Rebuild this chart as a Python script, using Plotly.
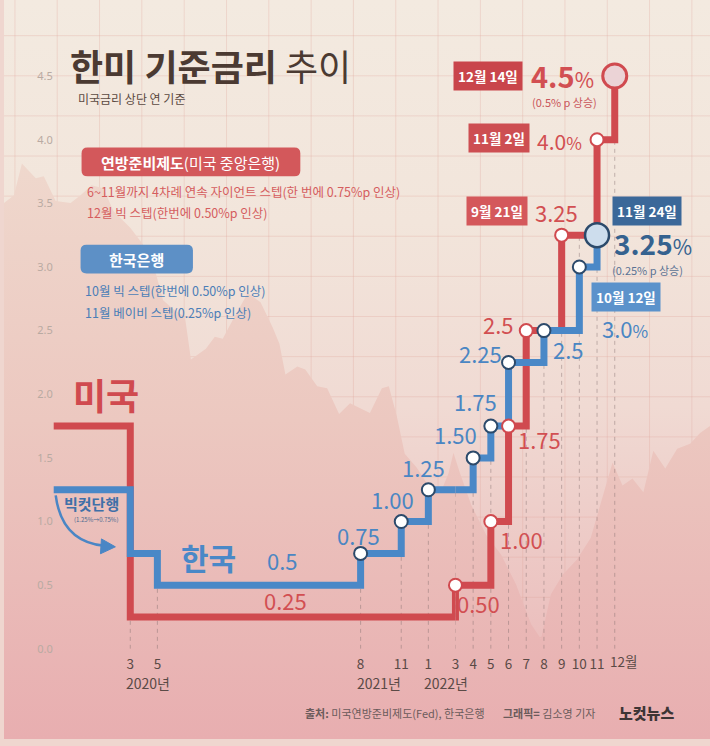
import base64
import plotly.graph_objects as go

W, H = 710, 746
FONT = "Noto Sans CJK KR, Noto Sans, sans-serif"

# ---------------- data ----------------
us_months = ["2019-08", "2020-03", "2022-03", "2022-05", "2022-06", "2022-07", "2022-09", "2022-11", "2022-12"]
us_rates = [1.75, 0.25, 0.50, 1.00, 1.75, 2.50, 3.25, 4.00, 4.50]
us_labels = [None, "0.25", "0.50", "1.00", "1.75", "2.5", "3.25", "4.0", "4.5"]
us_dates = {6: "9월 21일", 7: "11월 2일", 8: "12월 14일"}

kr_months = ["2019-08", "2020-03", "2020-05", "2021-08", "2021-11", "2022-01", "2022-04",
             "2022-05", "2022-06", "2022-08", "2022-10", "2022-11"]
kr_rates = [1.25, 0.75, 0.50, 0.75, 1.00, 1.25, 1.50, 1.75, 2.25, 2.50, 3.00, 3.25]
kr_labels = [None, None, "0.5", "0.75", "1.00", "1.25", "1.50", "1.75", "2.25", "2.5", "3.0", "3.25"]
kr_dates = {10: "10월 12일", 11: "11월 24일"}

tick_months = ["2020-03", "2020-05", "2021-08", "2021-11", "2022-01", "2022-03", "2022-04", "2022-05",
               "2022-06", "2022-07", "2022-08", "2022-09", "2022-10", "2022-11", "2022-12"]
tick_text = ["3", "5", "8", "11", "1", "3", "4", "5", "6", "7", "8", "9", "10", "11", "12월"]
year_months = ["2020-03", "2021-08", "2022-01"]
year_text = ["2020년", "2021년", "2022년"]
y_ticks = [0.0, 0.5, 1.0, 1.5, 2.0, 2.5, 3.0, 3.5, 4.0, 4.5]

# ---------------- styling ----------------
RED = "#d04a4f"
BLUE = "#4a88c7"
NAVY = "#2c4a6b"
RED_TXT = "#d24f52"
BLUE_TXT = "#4a86c3"
TICK_COLOR = "#5a4a46"


def midx(s):
    y, mo = s.split("-")[:2]
    return (int(y) - 2020) * 12 + int(mo) - 1


BREAK = midx("2022-03")


def xa(m):
    return "x" if m < BREAK else "x2"


def px(x):
    return x / W


def py(y):
    return 1 - y / H


def rate_at(months, rates, m):
    v = rates[0]
    for mo, r in zip(months, rates):
        if midx(mo) <= m:
            v = r
    return v


us_x = [midx(m) for m in us_months]
kr_x = [midx(m) for m in kr_months]

# ---------------- background (decorative) ----------------
grid = []
gx = 11.0
while gx < W:
    grid.append(f"<line x1='{gx:.1f}' y1='0' x2='{gx:.1f}' y2='{H}'/>")
    gx += 42.55
gy = 36.0
while gy < H:
    grid.append(f"<line x1='0' y1='{gy:.1f}' x2='{W}' y2='{gy:.1f}'/>")
    gy += 40.5
mountain = [(0, 205), (10, 197), (18, 165), (32, 180), (40, 178), (52, 203), (67, 205), (77, 197),
            (88, 187), (100, 190), (110, 213), (127, 230), (140, 247), (153, 277), (160, 303),
            (170, 312), (182, 320), (188, 363), (203, 352), (212, 340), (220, 342), (230, 323),
            (245, 296), (258, 305), (270, 330), (277, 347), (283, 378), (295, 370), (303, 373),
            (315, 390), (325, 392), (337, 418), (348, 407), (368, 417), (380, 392), (387, 390),
            (395, 420), (403, 458), (415, 472), (428, 492), (440, 495), (447, 478), (452, 457),
            (458, 476), (470, 510), (485, 540), (500, 560), (515, 590), (530, 630), (540, 645),
            (550, 600), (562, 580), (576, 565), (590, 543), (612, 467), (622, 490), (632, 483),
            (643, 497), (653, 455), (665, 473), (677, 453), (690, 448), (700, 437), (710, 430),
            (710, 746), (0, 746)]
mpath = "M" + " L".join(f"{a},{b}" for a, b in mountain) + " Z"
svg = f"""<svg xmlns='http://www.w3.org/2000/svg' width='{W}' height='{H}' viewBox='0 0 {W} {H}'>
<defs>
<linearGradient id='bg' x1='0' y1='0' x2='0' y2='{H}' gradientUnits='userSpaceOnUse'>
<stop offset='0' stop-color='#f3eae0'/><stop offset='0.3' stop-color='#f2e5db'/>
<stop offset='0.55' stop-color='#f0dad3'/><stop offset='1' stop-color='#e9b3b4'/></linearGradient>
<linearGradient id='mt' x1='0' y1='160' x2='0' y2='{H}' gradientUnits='userSpaceOnUse'>
<stop offset='0' stop-color='#efd8cd'/><stop offset='0.45' stop-color='#ecc8c0'/>
<stop offset='1' stop-color='#e8aeb0'/></linearGradient>
</defs>
<rect x='0' y='0' width='{W}' height='{H}' fill='url(#bg)'/>
<g stroke='rgba(226,165,155,0.3)' stroke-width='1'>{''.join(grid)}</g>
<path d='{mpath}' fill='url(#mt)'/>
</svg>"""
svg_uri = "data:image/svg+xml;base64," + base64.b64encode(svg.encode("utf-8")).decode()

fig = go.Figure()

# step lines, drawn on both halves of the broken time axis
for color, xs, ys in ((RED, us_x, us_rates), (BLUE, kr_x, kr_rates)):
    for ax in ("x", "x2"):
        fig.add_trace(go.Scatter(x=xs, y=ys, mode="lines", xaxis=ax, yaxis="y",
                                 line=dict(color=color, width=7, shape="hv"),
                                 hoverinfo="skip", showlegend=False))


def add_markers(xs, ys, idxs, fill, edge, size, width):
    for ax in ("x", "x2"):
        sel = [i for i in idxs if xa(xs[i]) == ax]
        if not sel:
            continue
        fig.add_trace(go.Scatter(x=[xs[i] for i in sel], y=[ys[i] for i in sel], mode="markers",
                                 xaxis=ax, yaxis="y", cliponaxis=False, hoverinfo="skip",
                                 showlegend=False,
                                 marker=dict(size=size, color=fill, line=dict(color=edge, width=width))))


n_us, n_kr = len(us_x), len(kr_x)
add_markers(us_x, us_rates, list(range(2, n_us - 1)), "white", RED, 13, 2)
add_markers(kr_x, kr_rates, list(range(3, n_kr - 1)), "white", NAVY, 13, 2)
add_markers(us_x, us_rates, [n_us - 1], "#ebd3d6", RED, 24, 3)
add_markers(kr_x, kr_rates, [n_kr - 1], "#cddded", NAVY, 24, 2.5)

ann = []


def lab(text, m, v, dx, dy, color, size, xanchor="center", bg=None, pad=0):
    ann.append(dict(text=text, x=m, y=v, xref=xa(m), yref="y", xshift=dx, yshift=dy,
                    xanchor=xanchor, yanchor="middle", showarrow=False, bgcolor=bg, borderpad=pad,
                    font=dict(family=FONT, size=size, color=color)))


# value labels on the lines
US_OFF = {1: (-7, 17), 2: (23, -18), 3: (31, -17), 4: (31, -13), 5: (-28, 7), 6: (-5, 23)}
KR_OFF = {2: (24, 25), 3: (-2, 18), 4: (-9, 23), 5: (-5, 23), 6: (-18, 24), 7: (-15, 25),
          8: (-28, 9), 9: (25, -18)}
for i, (dx, dy) in US_OFF.items():
    m = us_x[i] if i != 1 else (us_x[1] + us_x[2]) / 2
    lab(us_labels[i], m, us_rates[i], dx, dy, RED_TXT, 22)
for i, (dx, dy) in KR_OFF.items():
    m = kr_x[i] if i != 2 else (kr_x[2] + kr_x[3]) / 2
    lab(kr_labels[i], m, kr_rates[i], dx, dy, BLUE_TXT, 22)

# series names
lab("<b>한국</b>", (kr_x[2] + kr_x[3]) / 2, kr_rates[2], -50, 28, BLUE, 30)
ann.append(dict(text="<b>미국</b>", x=px(103), y=py(398), xref="paper", yref="paper", showarrow=False,
                xanchor="center", yanchor="middle", font=dict(family=FONT, size=36, color=RED)))

# headline values
i = n_us - 1
lab(f"<b>{us_labels[i]}</b><span style='font-size:21px'>%</span>", us_x[i], us_rates[i], -52, 1, RED_TXT, 29)
lab("(0.5% p 상승)", us_x[i], us_rates[i], -50, -26, "#c9555a", 11)
i = n_us - 2
lab(f"{us_labels[i]}<span style='font-size:17px'>%</span>", us_x[i], us_rates[i], -38, -1, RED_TXT, 21)
i = n_kr - 1
lab(f"<b>{kr_labels[i]}</b><span style='font-size:21px'>%</span>", kr_x[i], kr_rates[i], 56, -8, "#35628f", 28)
lab("(0.25% p 상승)", kr_x[i], kr_rates[i], 50, -35, "#5b7394", 11)
i = n_kr - 2
lab(f"{kr_labels[i]}<span style='font-size:17px'>%</span>", kr_x[i], kr_rates[i], 46, -61, BLUE_TXT, 22)

# date boxes
US_BOX = {6: (-65, 24, "#d4585b"), 7: (-98, 2, "#cd4e52"), 8: (-127, 0, "#c9454b")}
KR_BOX = {10: (47, -30, "#5b92cb"), 11: (50, 24, "#3b6899")}
for i, (dx, dy, c) in US_BOX.items():
    lab(f"<b>{us_dates[i]}</b>", us_x[i], us_rates[i], dx, dy, "white", 13.5, bg=c, pad=4)
for i, (dx, dy, c) in KR_BOX.items():
    lab(f"<b>{kr_dates[i]}</b>", kr_x[i], kr_rates[i], dx, dy, "white", 13.5, bg=c, pad=4)

# year labels under month ticks
for m, t in zip(year_months, year_text):
    mm = midx(m)
    ann.append(dict(text=t, x=mm, y=py(689), xref=xa(mm), yref="paper", xanchor="left", yanchor="middle",
                    xshift=-6, showarrow=False, font=dict(family=FONT, size=14, color=TICK_COLOR)))


def ptext(text, x, y, size, color, xanchor="left", weight=None):
    f = dict(family=FONT, size=size, color=color)
    if weight:
        f["weight"] = weight
    ann.append(dict(text=text, x=px(x), y=py(y), xref="paper", yref="paper", xanchor=xanchor,
                    yanchor="middle", showarrow=False, font=f))


# title block
ptext("<b>한미 기준금리</b> 추이", 64, 66, 36, "#4b3a32")
ptext("미국금리 상단 연 기준", 72, 99, 12, "#5b4a42")

# legend blocks
ptext("<b>연방준비제도</b>(미국 중앙은행)", 188, 164, 15, "white", "center")
ptext("6~11월까지 4차례 연속 자이언트 스텝(한 번에 0.75%p 인상)", 81, 193, 12.5, "#d55d5e")
ptext("12월 빅 스텝(한번에 0.50%p 인상)", 81, 215, 12.5, "#d55d5e")
ptext("<b>한국은행</b>", 133, 262, 15, "white", "center")
ptext("10월 빅 스텝(한번에 0.50%p 인상)", 79, 293, 12.5, "#4b7eb7")
ptext("11월 베이비 스텝(0.25%p 인상)", 79, 315, 12.5, "#4b7eb7")

# big-cut note
ptext("<b>빅컷단행</b>", 88, 508, 15, "#3f70a8", "center")
ptext("(1.25%→0.75%)", 93, 524, 6, "#4a6a90", "center")

# credits
ptext("<b>출처:</b> 미국연방준비제도(Fed), 한국은행", 301, 720, 11, "#6b5b5b")
ptext("<b>그래픽=</b> 김소영 기자", 500, 720, 11, "#6b5b5b")
ptext("노컷뉴스", 646, 719, 15, "#3d3535", "center", 900)


def P(x, y):
    return f"{px(x):.5f},{py(y):.5f}"


def rrect(x0, y0, x1, y1, r):
    return (f"M{P(x0 + r, y0)} L{P(x1 - r, y0)} Q{P(x1, y0)} {P(x1, y0 + r)} L{P(x1, y1 - r)} "
            f"Q{P(x1, y1)} {P(x1 - r, y1)} L{P(x0 + r, y1)} Q{P(x0, y1)} {P(x0, y1 - r)} "
            f"L{P(x0, y0 + r)} Q{P(x0, y0)} {P(x0 + r, y0)} Z")


shapes = [
    dict(type="path", xref="paper", yref="paper", path=rrect(78, 149, 298, 178, 6),
         fillcolor="#d3585b", line=dict(width=0), layer="below"),
    dict(type="path", xref="paper", yref="paper", path=rrect(77, 247, 190, 276, 6),
         fillcolor="#5d90c6", line=dict(width=0), layer="below"),
    dict(type="path", xref="paper", yref="paper", path=f"M{P(52, 500)} Q{P(58, 547)} {P(101, 551)}",
         line=dict(color="#4a86c5", width=2.5)),
    dict(type="path", xref="paper", yref="paper",
         path=f"M{P(98, 544)} L{P(112, 552)} L{P(97, 559)} Z", fillcolor="#4a86c5",
         line=dict(color="#4a86c5", width=1)),
]

# dashed guides from the axis up to each tick month's step
for m in tick_months:
    mm = midx(m)
    top = max(rate_at(us_months, us_rates, mm), rate_at(kr_months, kr_rates, mm))
    shapes.append(dict(type="line", xref=xa(mm), yref="y", x0=mm, x1=mm, y0=0, y1=top,
                       line=dict(color="rgba(130,110,110,0.45)", width=1, dash="4px,4px"), layer="below"))

left_ticks = [midx(m) for m in tick_months if midx(m) < BREAK]
right_ticks = [midx(m) for m in tick_months if midx(m) >= BREAK]
left_text = [t for m, t in zip(tick_months, tick_text) if midx(m) < BREAK]
right_text = [t for m, t in zip(tick_months, tick_text) if midx(m) >= BREAK]
# the final "12월" label hangs to the right of its tick (as in the source): draw it as a left-anchored label
last_label = right_text[-1]
right_text[-1] = ""
ann.append(dict(text=last_label, x=right_ticks[-1], y=py(667), xref="x2", yref="paper", xanchor="left",
                yanchor="middle", xshift=-7, showarrow=False,
                font=dict(family=FONT, size=13.5, color=TICK_COLOR)))

tickfont = dict(family=FONT, size=13.5, color=TICK_COLOR)
axis_common = dict(tickfont=tickfont, ticks="outside", ticklen=3, tickcolor="rgba(0,0,0,0)",
                   tickangle=0, showgrid=False, zeroline=False, showline=False)
fig.update_layout(
    width=W, height=H, margin=dict(l=0, r=0, t=0, b=0),
    paper_bgcolor="#efd6cf", plot_bgcolor="rgba(0,0,0,0)",
    showlegend=False, hovermode=False,
    images=[dict(source=svg_uri, xref="paper", yref="paper", x=0, y=1, sizex=1, sizey=1,
                 xanchor="left", yanchor="top", sizing="stretch", layer="below")],
    xaxis=dict(domain=[px(50), px(454)], range=[2 - 77 / 13.625, BREAK], anchor="y",
               tickvals=left_ticks, ticktext=left_text, **axis_common),
    xaxis2=dict(domain=[px(454), 1], range=[BREAK, BREAK + 256 / 17.8], anchor="y",
                tickvals=right_ticks, ticktext=right_text, **axis_common),
    yaxis=dict(domain=[91 / H, 1], range=[0, 655 / 128.5], anchor="x",
               tickvals=y_ticks, ticktext=[f"{v:.1f}" for v in y_ticks],
               tickfont=dict(family="Noto Sans", size=11, color="#b9aaa2"), ticks="",
               showgrid=False, zeroline=False, showline=False),
    annotations=ann, shapes=shapes,
)

fig.write_html("out.html", config={"displayModeBar": False})

# remove the default page margin so the figure sits at the window's top-left corner
with open("out.html", encoding="utf-8") as f:
    html = f.read()
html = html.replace("<head>", "<head><style>html,body{margin:0;padding:0;overflow:hidden;}</style>", 1)
with open("out.html", "w", encoding="utf-8") as f:
    f.write(html)
